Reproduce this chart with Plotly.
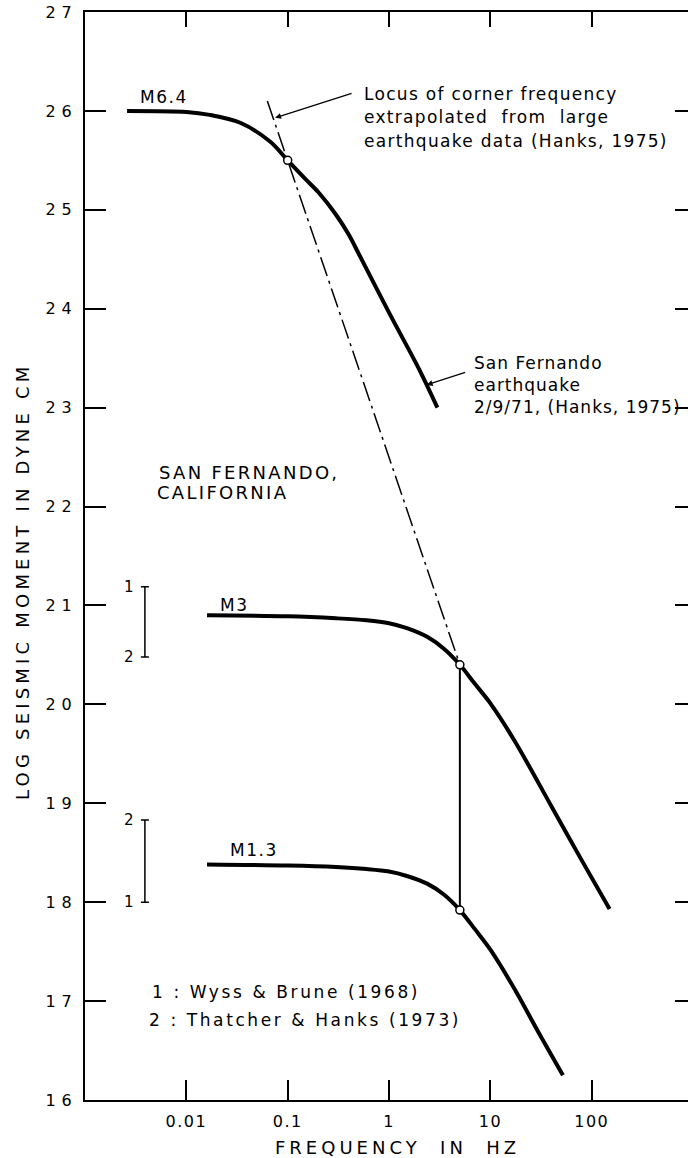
import numpy as np
import plotly.graph_objects as go

# ---------------- data ----------------
m64_f = [0.0026, 0.01, 0.017, 0.034, 0.067, 0.1, 0.15, 0.2, 0.3, 0.4, 0.5, 1.0, 2.0, 3.0]
m64_y = [26.0, 25.99, 25.96, 25.88, 25.69, 25.5, 25.31, 25.18, 24.95, 24.75, 24.56, 23.96, 23.38, 23.0]

m3_f = [0.016, 0.1, 0.3, 0.6, 1.0, 1.5, 2.4, 3.5, 5.0, 7.0, 10, 17.6, 40, 80, 150]
m3_y = [20.9, 20.89, 20.87, 20.85, 20.82, 20.77, 20.68, 20.56, 20.4, 20.21, 20.01, 19.62, 18.97, 18.42, 17.93]

m13_f = [0.016, 0.1, 0.3, 0.6, 1.0, 1.5, 2.4, 3.5, 5.0, 7.0, 10, 17.6, 30, 52]
m13_y = [18.38, 18.37, 18.355, 18.335, 18.31, 18.265, 18.185, 18.075, 17.92, 17.73, 17.52, 17.11, 16.68, 16.25]

locus_f = [0.063, 5.0]
locus_y = [26.1, 20.4]

corner_f = [0.1, 5.0, 5.0]
corner_y = [25.5, 20.4, 17.92]

link_f = [5.0, 5.0]
link_y = [20.4, 17.92]

# observed ranges (bar position, low, high, label at top, label at bottom)
bar_f = [0.0039, 0.0039]
bar_lo = [20.48, 18.0]
bar_hi = [21.19, 18.83]
bar_top_lbl = ["1", "2"]
bar_bot_lbl = ["2", "1"]

x_tickvals = [0.01, 0.1, 1, 10, 100]
x_ticktext = ["0.01", "0.1", "1", "10", "100"]
y_tickvals = list(range(16, 28))
y_ticktext = [str(v) for v in y_tickvals]

curve_labels = [("M6.4", 0.00334, 26.14), ("M3", 0.0205, 21.0), ("M1.3", 0.0258, 18.53)]

# text blocks: (text, x in Hz, y)
locus_lines = [("Locus of corner frequency", 0.5426, 26.171),
               ("extrapolated  from  large", 0.5426, 25.938),
               ("earthquake data (Hanks, 1975)", 0.5426, 25.696)]
sf_lines = [("San Fernando", 6.6, 23.451),
            ("earthquake", 6.6, 23.23),
            ("2/9/71, (Hanks, 1975)", 6.6, 23.006)]
place_lines = [("SAN FERNANDO,", 0.00514, 22.349),
               ("CALIFORNIA", 0.00491, 22.137)]
source_lines = [("1 : Wyss & Brune (1968)", 0.00439, 17.091),
                ("2 : Thatcher & Hanks (1973)", 0.00409, 16.808)]

FONT = "DejaVu Sans"


def sp(text, ls):
    return '<span style="letter-spacing:%spx">%s</span>' % (ls, text)


fig = go.Figure()

thick = dict(color="black", width=4)
for fx, fy in [(m64_f, m64_y), (m3_f, m3_y), (m13_f, m13_y)]:
    fig.add_trace(go.Scatter(x=fx, y=fy, mode="lines",
                             line=dict(thick, shape="spline", smoothing=0.9)))

fig.add_trace(go.Scatter(x=locus_f, y=locus_y, mode="lines",
                         line=dict(color="black", width=1.5, dash="20px,5px,3px,5px")))
fig.add_trace(go.Scatter(x=link_f, y=link_y, mode="lines", line=dict(color="black", width=2)))
fig.add_trace(go.Scatter(x=corner_f, y=corner_y, mode="markers",
                         marker=dict(size=8, color="white", line=dict(color="black", width=1.5))))

# range bars
mid = [(a + b) / 2 for a, b in zip(bar_lo, bar_hi)]
half = [(b - a) / 2 for a, b in zip(bar_lo, bar_hi)]
fig.add_trace(go.Scatter(x=bar_f, y=mid, mode="markers", marker=dict(size=1, color="rgba(0,0,0,0)"),
                         error_y=dict(type="data", array=half, symmetric=True, color="black",
                                      thickness=1.5, width=4)))

# invisible anchor for the secondary (mirror) axes
fig.add_trace(go.Scatter(x=[1], y=[20], xaxis="x2", yaxis="y2", mode="markers",
                         marker=dict(opacity=0), hoverinfo="skip"))

ann = []
L = np.log10


def txt(t, f, y, size, ls):
    return dict(x=L(f), y=y, xref="x", yref="y", text=sp(t, ls), showarrow=False,
                xanchor="left", yanchor="middle", font=dict(size=size, family=FONT, color="black"))


for t, f, y in curve_labels:
    ann.append(txt(t, f, y, 17, 1.5))

for f, lo, hi, t, b in zip(bar_f, bar_lo, bar_hi, bar_top_lbl, bar_bot_lbl):
    ann.append(dict(x=L(f), y=hi, text=t, showarrow=False, xanchor="right", yanchor="middle",
                    xshift=-9, font=dict(size=15, family=FONT, color="black")))
    ann.append(dict(x=L(f), y=lo, text=b, showarrow=False, xanchor="right", yanchor="middle",
                    xshift=-9, font=dict(size=15, family=FONT, color="black")))

# arrows
ann.append(dict(x=L(0.0751), y=25.93, ax=78, ay=-25, text="", showarrow=True,
                arrowhead=2, arrowsize=1, arrowwidth=1.2, arrowcolor="black"))
ann.append(dict(x=L(2.35), y=23.23, ax=40, ay=-13, text="", showarrow=True,
                arrowhead=2, arrowsize=1, arrowwidth=1.2, arrowcolor="black"))

for t, f, y in locus_lines:
    ann.append(txt(t, f, y, 17, 1.3))
for t, f, y in sf_lines:
    ann.append(txt(t, f, y, 17, 1.0))
for t, f, y in place_lines:
    ann.append(txt(t, f, y, 18, 2.3))
for t, f, y in source_lines:
    ann.append(txt(t, f, y, 17, 2.6))

# axis titles
ann.append(dict(xref="paper", yref="paper", x=(22 - 85) / 603, y=1 - (581 - 12) / 1088,
                text=sp("LOG SEISMIC MOMENT IN DYNE CM", 4.2), textangle=-90, showarrow=False,
                xanchor="center", yanchor="middle", font=dict(size=18, family=FONT, color="black")))
ann.append(dict(xref="paper", yref="paper", x=(397 - 85) / 603, y=-(1147 - 1100) / 1088,
                text=sp("FREQUENCY  IN  HZ", 4), showarrow=False,
                xanchor="center", yanchor="middle", font=dict(size=18, family=FONT, color="black")))

ax_common = dict(showgrid=False, zeroline=False, linecolor="black", linewidth=2,
                 tickcolor="black", tickwidth=1.5)

fig.update_layout(
    width=688, height=1158,
    margin=dict(l=85, r=0, t=12, b=58),
    paper_bgcolor="white", plot_bgcolor="white",
    showlegend=False,
    font=dict(family=FONT, color="black"),
    annotations=ann,
    xaxis=dict(ax_common, type="log", range=[-3, 2.95], tickvals=x_tickvals,
               ticktext=[sp(t, 1.5) for t in x_ticktext], ticks="inside", ticklen=20,
               showline=True, tickfont=dict(size=16, family=FONT, color="black"),
               ticklabelstandoff=6),
    xaxis2=dict(ax_common, type="log", range=[-3, 2.95], tickvals=x_tickvals, overlaying="x",
                side="top", ticks="inside", ticklen=15, showline=True, showticklabels=False),
    yaxis=dict(ax_common, range=[16, 27], tickvals=y_tickvals,
               ticktext=[sp(t, 6) for t in y_ticktext], ticks="inside", ticklen=21,
               showline=True, tickfont=dict(size=16, family=FONT, color="black"),
               ticklabelstandoff=2),
    yaxis2=dict(ax_common, range=[16, 27], tickvals=y_tickvals, overlaying="y", side="right",
                ticks="inside", ticklen=13, showline=False, showticklabels=False),
)

fig.write_html("out.html")
